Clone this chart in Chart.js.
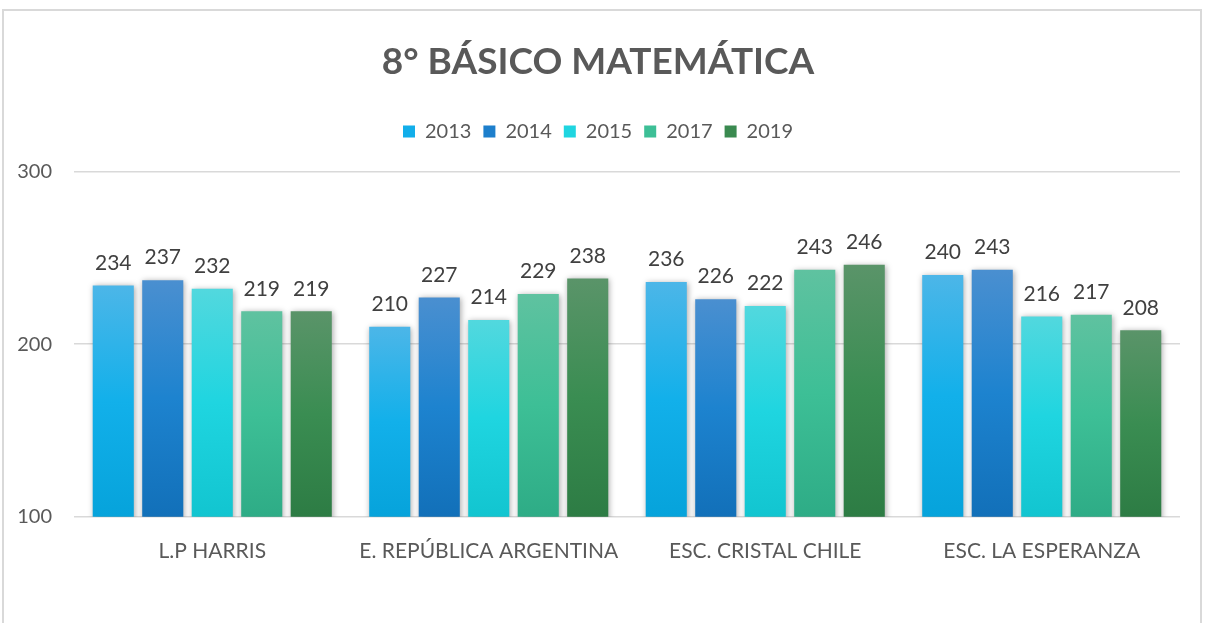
<!DOCTYPE html>
<html>
<head>
<meta charset="utf-8">
<script src="https://cdn.jsdelivr.net/npm/chart.js@4.4.1/dist/chart.umd.min.js"></script>
<style>
  html, body { margin: 0; padding: 0; background: #fff; overflow: hidden; }
  #wrap { position: relative; width: 1206px; height: 623px; }
  #frame { position: absolute; left: 2px; top: 9px; width: 1200px; height: 700px; border: 2px solid #d9d9d9; border-bottom: none; box-sizing: border-box; }
  canvas { position: absolute; left: 0; top: 0; }
</style>
</head>
<body>
<div id="wrap">
  <div id="frame"></div>
  <canvas id="c" width="1206" height="623"></canvas>
</div>
<script>
const categories = ['L.P HARRIS', 'E. REPÚBLICA ARGENTINA', 'ESC. CRISTAL CHILE', 'ESC. LA ESPERANZA'];
const seriesNames = ['2013', '2014', '2015', '2017', '2019'];
const values2013 = [234, 210, 236, 240];
const values2014 = [237, 227, 226, 243];
const values2015 = [232, 214, 222, 216];
const values2017 = [219, 229, 243, 217];
const values2019 = [219, 238, 246, 208];
const yTicks = [100, 200, 300];

const FONT = 'Lato, "Open Sans", sans-serif';
const palettes = [
  ['#4cb6e8', '#12b0ea', '#06a3db'],
  ['#4a8fd0', '#1d83cf', '#1270b9'],
  ['#52d8de', '#1fd5e0', '#12c5d0'],
  ['#5fc2a0', '#3dbf96', '#2eac86'],
  ['#5a9469', '#3a8d52', '#2d7c44']
];
const legendColors = ['#12aeea', '#1d7fcc', '#1fd5e0', '#3dbf96', '#3a8a50'];
const allValues = [values2013, values2014, values2015, values2017, values2019];

function gradientFor(i) {
  return function(ctx) {
    const chart = ctx.chart;
    if (!chart.chartArea || ctx.type !== 'data') return legendColors[i];
    const ys = chart.scales.y;
    const top = ys.getPixelForValue(ctx.raw);
    const bot = ys.getPixelForValue(ys.min);
    const g = chart.ctx.createLinearGradient(0, top, 0, bot);
    g.addColorStop(0, palettes[i][0]);
    g.addColorStop(0.5, palettes[i][1]);
    g.addColorStop(1, palettes[i][2]);
    return g;
  };
}

const datasets = seriesNames.map((name, i) => ({
  label: name,
  data: allValues[i],
  backgroundColor: gradientFor(i),
  borderWidth: 0
}));

const legendSpacer = {
  id: 'legendSpacer',
  beforeInit(chart) {
    const orig = chart.legend.fit;
    chart.legend.fit = function() {
      orig.bind(chart.legend)();
      this.height += 20;
    };
  }
};

const shadowPlugin = {
  id: 'shadow',
  beforeDatasetsDraw(chart) {
    const c = chart.ctx;
    c.save();
    c.shadowColor = 'rgba(0,0,0,0.35)';
    c.shadowBlur = 6;
    c.shadowOffsetX = 1;
    c.shadowOffsetY = 1;
  },
  afterDatasetsDraw(chart) {
    chart.ctx.restore();
  }
};

const labelPlugin = {
  id: 'valueLabels',
  afterDraw(chart) {
    const c = chart.ctx;
    c.save();
    c.font = '21px ' + FONT;
    c.fillStyle = '#404040';
    c.textAlign = 'center';
    c.textBaseline = 'bottom';
    chart.data.datasets.forEach((ds, di) => {
      const meta = chart.getDatasetMeta(di);
      meta.data.forEach((bar, j) => {
        c.fillText(String(ds.data[j]), bar.x, bar.y - 12);
      });
    });
    c.restore();
  }
};

new Chart(document.getElementById('c'), {
  type: 'bar',
  data: { labels: categories, datasets },
  options: {
    responsive: false,
    animation: false,
    devicePixelRatio: 1,
    categoryPercentage: 0.895,
    barPercentage: 0.83,
    layout: { padding: { left: 16, right: 26, top: 0, bottom: 45 } },
    plugins: {
      title: {
        display: true,
        text: '8° BÁSICO MATEMÁTICA',
        color: '#595959',
        font: { family: FONT, size: 37, weight: 'bold' },
        padding: { top: 40, bottom: 25 }
      },
      legend: {
        display: true,
        position: 'top',
        labels: {
          color: '#595959',
          font: { family: FONT, size: 20 },
          boxWidth: 12,
          boxHeight: 12,
          padding: 12,
          generateLabels(chart) {
            return seriesNames.map((n, i) => ({
              text: n, fillStyle: legendColors[i], strokeStyle: legendColors[i],
              lineWidth: 0, hidden: false, datasetIndex: i, fontColor: '#595959'
            }));
          }
        }
      },
      tooltip: { enabled: false }
    },
    scales: {
      x: {
        grid: { display: false },
        border: { display: false },
        ticks: { color: '#595959', font: { family: FONT, size: 21 }, padding: 14 }
      },
      y: {
        min: 100, max: 300,
        afterBuildTicks(scale) { scale.ticks = yTicks.map(v => ({ value: v })); },
        afterFit(scale) { scale.width = 58; },
        grid: { color: '#d9d9d9', lineWidth: 1.5, drawTicks: false },
        border: { display: false },
        ticks: { color: '#595959', font: { family: FONT, size: 20 }, padding: 22 }
      }
    }
  },
  plugins: [legendSpacer, shadowPlugin, labelPlugin]
});
</script>
</body>
</html>
